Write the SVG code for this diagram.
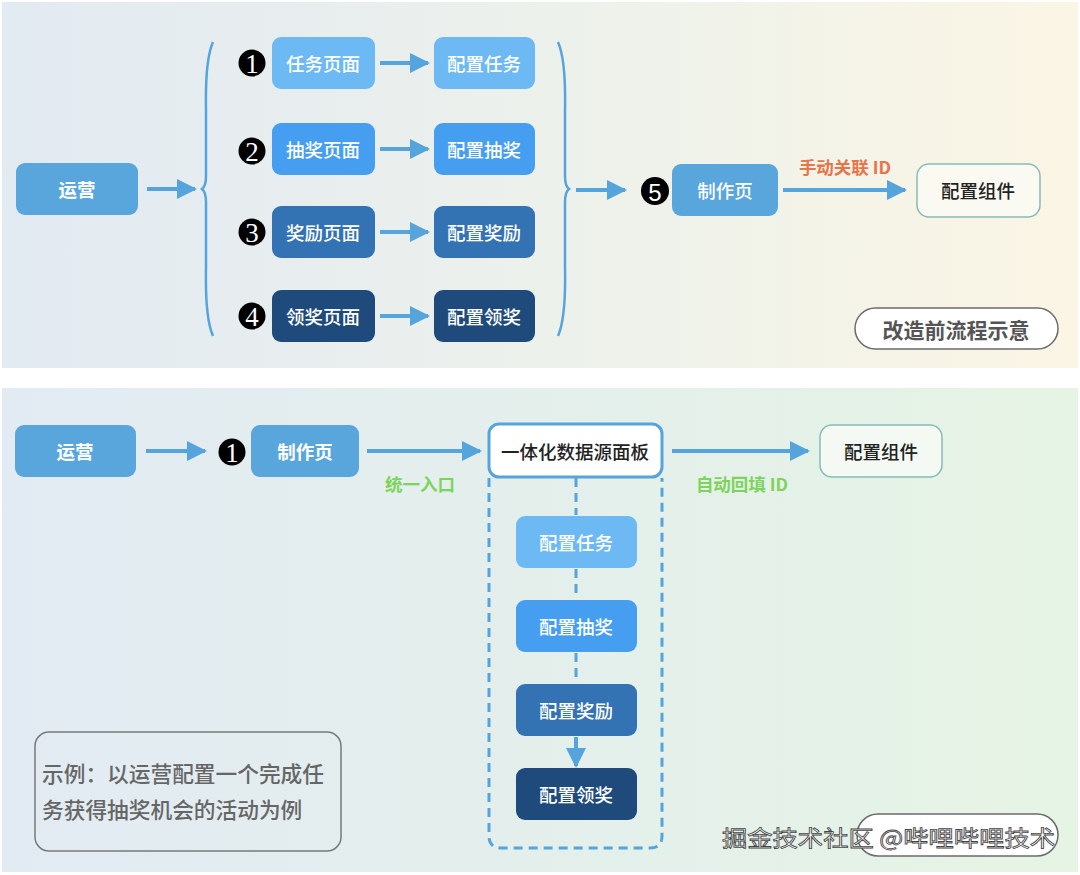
<svg xmlns="http://www.w3.org/2000/svg" width="1080" height="875" viewBox="0 0 1080 875">
<defs>
<linearGradient id="bgTop" x1="0" y1="0" x2="1" y2="0">
<stop offset="0" stop-color="#e2eaf2"/>
<stop offset="0.6" stop-color="#eef2ea"/>
<stop offset="1" stop-color="#fbf5e4"/>
</linearGradient>
<linearGradient id="bgBot" x1="0" y1="0" x2="1" y2="0">
<stop offset="0" stop-color="#e2ebf3"/>
<stop offset="0.6" stop-color="#e4f0ea"/>
<stop offset="1" stop-color="#e6f4e4"/>
</linearGradient>
<marker id="ah" viewBox="0 0 10 10" refX="9" refY="5" markerWidth="5" markerHeight="5" orient="auto" markerUnits="strokeWidth">
<path d="M0,0 L10,5 L0,10 Z" fill="#56a4dc"/>
</marker>
</defs>
<style>
.nt{font-family:"Noto Sans CJK SC","Liberation Sans",sans-serif;font-size:18.5px;font-weight:500;fill:#ffffff;text-anchor:middle;dominant-baseline:central}
.dk{font-family:"Noto Sans CJK SC","Liberation Sans",sans-serif;font-size:18.5px;font-weight:500;fill:#222222;text-anchor:middle;dominant-baseline:central}
.conn{stroke:#56a4dc;stroke-width:4;fill:none}
.brace{stroke:#56a4dc;stroke-width:2.5;fill:none}
.num{fill:#000000}
.numt{font-family:"Liberation Serif",serif;font-size:27px;fill:#ffffff;text-anchor:middle;dominant-baseline:central}
.lbl{font-family:"Noto Sans CJK SC","Liberation Sans",sans-serif;font-size:17.5px;font-weight:700;text-anchor:middle;dominant-baseline:central}
</style>

<rect x="2" y="2" width="1076" height="366" fill="url(#bgTop)"/>
<rect x="2" y="388" width="1076" height="484" fill="url(#bgBot)"/>

<!-- connectors -->
<g id="connectors">
<line class="conn" x1="147" y1="189" x2="195" y2="189" marker-end="url(#ah)"/>
<path class="brace" d="M213,42 Q205,60 206,110 L206,176 Q206,186 202,189 Q206,192 206,202 L206,268 Q205,318 213,336"/>
<line class="conn" x1="380" y1="63" x2="428" y2="63" marker-end="url(#ah)"/>
<line class="conn" x1="380" y1="149" x2="428" y2="149" marker-end="url(#ah)"/>
<line class="conn" x1="380" y1="232" x2="428" y2="232" marker-end="url(#ah)"/>
<line class="conn" x1="380" y1="316" x2="428" y2="316" marker-end="url(#ah)"/>
<path class="brace" d="M558,42 Q566,60 565,110 L565,176 Q565,186 569,189 Q565,192 565,202 L565,268 Q566,318 558,336"/>
<line class="conn" x1="576" y1="190" x2="625" y2="190" marker-end="url(#ah)"/>
<line class="conn" x1="783" y1="190" x2="905" y2="190" marker-end="url(#ah)"/>
<text class="lbl" x="845" y="166" fill="#e8744a">手动关联 ID</text>

<line class="conn" x1="146" y1="451" x2="205" y2="451" marker-end="url(#ah)"/>
<line class="conn" x1="367" y1="451" x2="480" y2="451" marker-end="url(#ah)"/>
<text class="lbl" x="420" y="483" fill="#7dd35c">统一入口</text>
<line class="conn" x1="672" y1="451" x2="808" y2="451" marker-end="url(#ah)"/>
<text class="lbl" x="742" y="483" fill="#7dd35c">自动回填 ID</text>

<path d="M489,478 L489,836 Q489,848 501,848 L650,848 Q662,848 662,836 L662,478" fill="none" stroke="#56a4dc" stroke-width="3" stroke-dasharray="9,6"/>
<line x1="576" y1="478" x2="576" y2="515" stroke="#56a4dc" stroke-width="3" stroke-dasharray="9,6"/>
<line x1="576" y1="569" x2="576" y2="599" stroke="#56a4dc" stroke-width="3" stroke-dasharray="9,6"/>
<line x1="576" y1="653" x2="576" y2="683" stroke="#56a4dc" stroke-width="3" stroke-dasharray="9,6"/>
<line class="conn" x1="576" y1="737" x2="576" y2="766" marker-end="url(#ah)"/>
</g>

<!-- top panel nodes -->
<g id="yunying1"><rect x="16" y="163" width="122" height="52" rx="9" fill="#59a6dd"/><text class="nt" x="77" y="189" style="font-weight:700">运营</text></g>

<g id="n1"><circle class="num" cx="252" cy="63" r="13.5"/><text class="numt" x="252" y="64">1</text></g>
<g id="renwuye"><rect x="272" y="37" width="103" height="52" rx="9" fill="#6cb9f4"/><text class="nt" x="323" y="63">任务页面</text></g>
<g id="peizhirenwu1"><rect x="434" y="37" width="101" height="52" rx="9" fill="#6cb9f4"/><text class="nt" x="484" y="63">配置任务</text></g>

<g id="n2"><circle class="num" cx="252" cy="151" r="13.5"/><text class="numt" x="252" y="152">2</text></g>
<g id="choujiangye"><rect x="272" y="123" width="103" height="52" rx="9" fill="#469ef0"/><text class="nt" x="323" y="149">抽奖页面</text></g>
<g id="peizhichoujiang1"><rect x="434" y="123" width="101" height="52" rx="9" fill="#469ef0"/><text class="nt" x="484" y="149">配置抽奖</text></g>

<g id="n3"><circle class="num" cx="252" cy="232" r="13.5"/><text class="numt" x="252" y="233">3</text></g>
<g id="jiangliye"><rect x="272" y="206" width="103" height="52" rx="9" fill="#3372b3"/><text class="nt" x="323" y="232">奖励页面</text></g>
<g id="peizhijiangli1"><rect x="434" y="206" width="101" height="52" rx="9" fill="#3372b3"/><text class="nt" x="484" y="232">配置奖励</text></g>

<g id="n4"><circle class="num" cx="252" cy="316" r="13.5"/><text class="numt" x="252" y="317">4</text></g>
<g id="lingjiangye"><rect x="272" y="290" width="103" height="52" rx="9" fill="#1e4b7b"/><text class="nt" x="323" y="316">领奖页面</text></g>
<g id="peizhilingjiang1"><rect x="434" y="290" width="101" height="52" rx="9" fill="#1e4b7b"/><text class="nt" x="484" y="316">配置领奖</text></g>

<g id="n5"><circle class="num" cx="655" cy="191" r="14"/><text x="655" y="192" style="font-family:'Liberation Sans',sans-serif;font-size:24px;fill:#fff;text-anchor:middle;dominant-baseline:central">5</text></g>
<g id="zhizuoye1"><rect x="672" y="164" width="106" height="52" rx="9" fill="#59a6dd"/><text class="nt" x="725" y="190">制作页</text></g>
<g id="zujian1"><rect x="917" y="164" width="123" height="53" rx="12" fill="#fbfaf2" stroke="#86bcb8" stroke-width="1.5"/><text class="dk" x="978" y="190">配置组件</text></g>

<g id="title1"><rect x="855" y="308" width="203" height="41" rx="20.5" fill="#ffffff" stroke="#6b6b6b" stroke-width="1.5"/><text x="956" y="329" style="font-family:'Noto Sans CJK SC','Liberation Sans',sans-serif;font-size:21px;font-weight:700;fill:#555555;text-anchor:middle;dominant-baseline:central">改造前流程示意</text></g>

<!-- bottom panel nodes -->
<g id="yunying2"><rect x="15" y="425" width="121" height="52" rx="9" fill="#59a6dd"/><text class="nt" x="75" y="451" style="font-weight:700">运营</text></g>
<g id="nb1"><circle class="num" cx="232" cy="452" r="13.5"/><text class="numt" x="232" y="453">1</text></g>
<g id="zhizuoye2"><rect x="251" y="425" width="108" height="52" rx="9" fill="#59a6dd"/><text class="nt" x="305" y="451" style="font-weight:700">制作页</text></g>
<g id="panel"><rect x="489" y="424" width="173" height="53" rx="10" fill="#ffffff" stroke="#56a4dc" stroke-width="3"/><text class="dk" x="575" y="451" style="font-size:18.5px">一体化数据源面板</text></g>
<g id="zujian2"><rect x="820" y="425" width="122" height="52" rx="12" fill="#f4faf3" stroke="#86bcb8" stroke-width="1.5"/><text class="dk" x="881" y="451">配置组件</text></g>

<g id="peizhirenwu2"><rect x="516" y="516" width="121" height="52" rx="9" fill="#6cb9f4"/><text class="nt" x="576" y="542">配置任务</text></g>
<g id="peizhichoujiang2"><rect x="516" y="600" width="121" height="52" rx="9" fill="#469ef0"/><text class="nt" x="576" y="626">配置抽奖</text></g>
<g id="peizhijiangli2"><rect x="516" y="684" width="121" height="52" rx="9" fill="#3372b3"/><text class="nt" x="576" y="710">配置奖励</text></g>
<g id="peizhilingjiang2"><rect x="516" y="768" width="121" height="52" rx="9" fill="#1e4b7b"/><text class="nt" x="576" y="794">配置领奖</text></g>

<g id="example"><rect x="35" y="732" width="306" height="119" rx="14" fill="none" stroke="#7a7a7a" stroke-width="1.5"/>
<text x="42" y="772" style="font-family:'Noto Sans CJK SC','Liberation Sans',sans-serif;font-size:21.7px;font-weight:500;fill:#666666;dominant-baseline:central">示例：以运营配置一个完成任</text>
<text x="42" y="808" style="font-family:'Noto Sans CJK SC','Liberation Sans',sans-serif;font-size:21.7px;font-weight:500;fill:#666666;dominant-baseline:central">务获得抽奖机会的活动为例</text></g>

<g id="watermark"><rect x="857" y="814" width="201" height="42" rx="21" fill="#ffffff" stroke="#6b6b6b" stroke-width="1.5"/>
<text x="722" y="836" style="font-family:'Noto Sans CJK SC','Liberation Sans',sans-serif;font-size:22px;fill:#ffffff;stroke:#444444;stroke-width:0.8;dominant-baseline:central" textLength="333" lengthAdjust="spacingAndGlyphs">掘金技术社区 @哔哩哔哩技术</text></g>
</svg>
